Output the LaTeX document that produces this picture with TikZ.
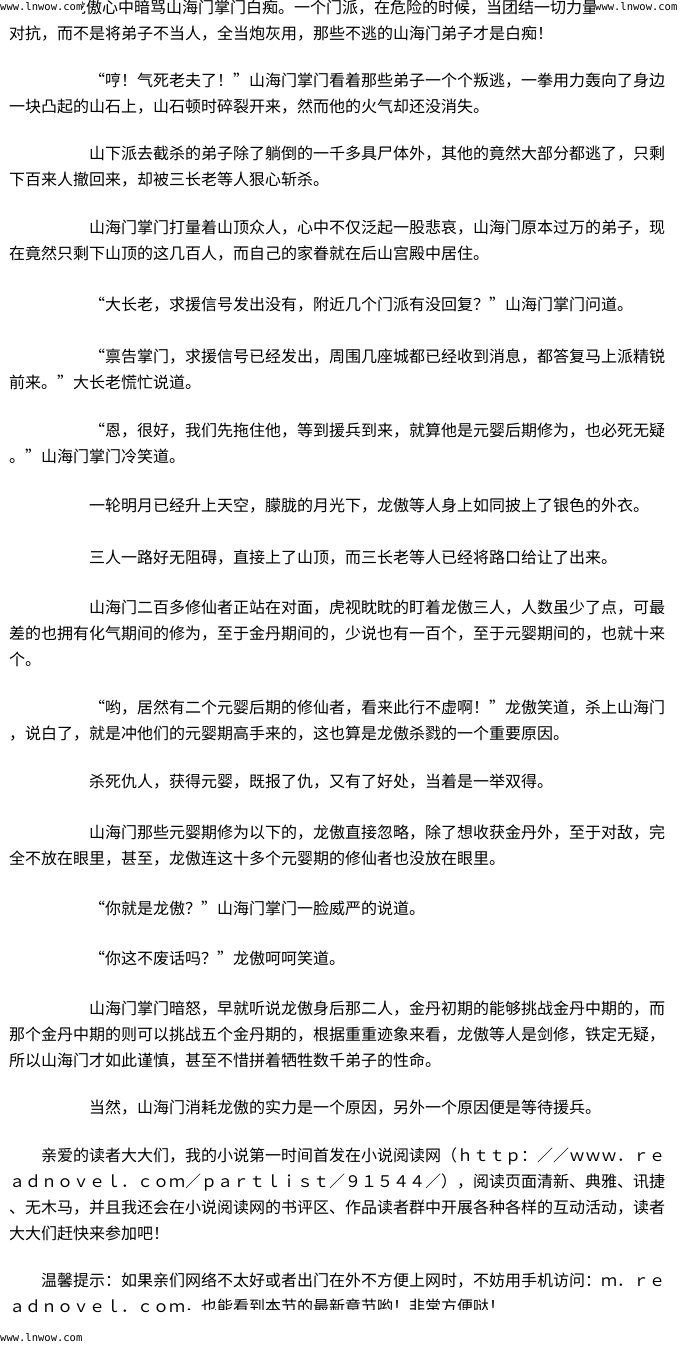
\documentclass[tikz,border=0pt]{standalone}
\usepackage{fontspec}
\newfontfamily\cjk{Noto Sans CJK SC}
\newfontfamily\wmfont{DejaVu Sans Mono}
\newlength\cw
\setlength\cw{16pt}
\def\cellbox#1{\ifx“#1\makebox[\cw][r]{#1}\else\ifx”#1\makebox[\cw][l]{#1}\else\makebox[\cw][c]{#1}\fi\fi}
\def\cellsi#1{\ifx\relax#1\else\cellbox{#1}\expandafter\cellsi\fi}
\newcommand\cells[1]{\cellsi#1\relax}
\tikzset{
  ln/.style={anchor=west, inner sep=0pt, text height=14.08pt, text depth=1.92pt,
    font=\cjk\fontsize{16}{16}\selectfont},
  wmark/.style={anchor=west, inner xsep=0pt, inner ysep=0pt, minimum height=16pt,
    fill=white, font=\wmfont\fontsize{10.5}{10.5}\selectfont}
}
\begin{document}
\begin{tikzpicture}[x=1pt,y=-1pt]
\useasboundingbox[fill=white] (0,0) rectangle (680,1355);
\node[ln] (l1) at (70,7) {\cells{龙傲心中暗骂山海门掌门白痴。一个门派，在危险的时候，当团结一切力量}};
\node[ln] (l2) at (9,33) {\cells{对抗，而不是将弟子不当人，全当炮灰用，那些不逃的山海门弟子才是白痴！}};
\node[ln] (l3) at (89,80) {\cells{“哼！气死老夫了！”山海门掌门看着那些弟子一个个叛逃，一拳用力轰向了身边}};
\node[ln] (l4) at (9,106) {\cells{一块凸起的山石上，山石顿时碎裂开来，然而他的火气却还没消失。}};
\node[ln] (l5) at (89,153) {\cells{山下派去截杀的弟子除了躺倒的一千多具尸体外，其他的竟然大部分都逃了，只剩}};
\node[ln] (l6) at (9,179) {\cells{下百来人撤回来，却被三长老等人狠心斩杀。}};
\node[ln] (l7) at (89,227) {\cells{山海门掌门打量着山顶众人，心中不仅泛起一股悲哀，山海门原本过万的弟子，现}};
\node[ln] (l8) at (9,253) {\cells{在竟然只剩下山顶的这几百人，而自己的家眷就在后山宫殿中居住。}};
\node[ln] (l9) at (89,304) {\cells{“大长老，求援信号发出没有，附近几个门派有没回复？”山海门掌门问道。}};
\node[ln] (l10) at (89,356) {\cells{“禀告掌门，求援信号已经发出，周围几座城都已经收到消息，都答复马上派精锐}};
\node[ln] (l11) at (9,382) {\cells{前来。”大长老慌忙说道。}};
\node[ln] (l12) at (89,430) {\cells{“恩，很好，我们先拖住他，等到援兵到来，就算他是元婴后期修为，也必死无疑}};
\node[ln] (l13) at (9,456) {\cells{。”山海门掌门冷笑道。}};
\node[ln] (l14) at (89,505) {\cells{一轮明月已经升上天空，朦胧的月光下，龙傲等人身上如同披上了银色的外衣。}};
\node[ln] (l15) at (89,557) {\cells{三人一路好无阻碍，直接上了山顶，而三长老等人已经将路口给让了出来。}};
\node[ln] (l16) at (89,607) {\cells{山海门二百多修仙者正站在对面，虎视眈眈的盯着龙傲三人，人数虽少了点，可最}};
\node[ln] (l17) at (9,633) {\cells{差的也拥有化气期间的修为，至于金丹期间的，少说也有一百个，至于元婴期间的，也就十来}};
\node[ln] (l18) at (9,659) {\cells{个。}};
\node[ln] (l19) at (89,707) {\cells{“哟，居然有二个元婴后期的修仙者，看来此行不虚啊！”龙傲笑道，杀上山海门}};
\node[ln] (l20) at (9,733) {\cells{，说白了，就是冲他们的元婴期高手来的，这也算是龙傲杀戮的一个重要原因。}};
\node[ln] (l21) at (89,781) {\cells{杀死仇人，获得元婴，既报了仇，又有了好处，当着是一举双得。}};
\node[ln] (l22) at (89,832) {\cells{山海门那些元婴期修为以下的，龙傲直接忽略，除了想收获金丹外，至于对敌，完}};
\node[ln] (l23) at (9,858) {\cells{全不放在眼里，甚至，龙傲连这十多个元婴期的修仙者也没放在眼里。}};
\node[ln] (l24) at (89,908) {\cells{“你就是龙傲？”山海门掌门一脸威严的说道。}};
\node[ln] (l25) at (89,958) {\cells{“你这不废话吗？”龙傲呵呵笑道。}};
\node[ln] (l26) at (89,1008) {\cells{山海门掌门暗怒，早就听说龙傲身后那二人，金丹初期的能够挑战金丹中期的，而}};
\node[ln] (l27) at (9,1034) {\cells{那个金丹中期的则可以挑战五个金丹期的，根据重重迹象来看，龙傲等人是剑修，铁定无疑，}};
\node[ln] (l28) at (9,1060) {\cells{所以山海门才如此谨慎，甚至不惜拼着牺牲数千弟子的性命。}};
\node[ln] (l29) at (89,1107) {\cells{当然，山海门消耗龙傲的实力是一个原因，另外一个原因便是等待援兵。}};
\node[ln] (l30) at (41,1155) {\cells{亲爱的读者大大们，我的小说第一时间首发在小说阅读网（ｈｔｔｐ：／／ｗｗｗ．ｒｅ}};
\node[ln] (l31) at (9,1181) {\cells{ａｄｎｏｖｅｌ．ｃｏｍ／ｐａｒｔｌｉｓｔ／９１５４４／），阅读页面清新、典雅、讯捷}};
\node[ln] (l32) at (9,1207) {\cells{、无木马，并且我还会在小说阅读网的书评区、作品读者群中开展各种各样的互动活动，读者}};
\node[ln] (l33) at (9,1233) {\cells{大大们赶快来参加吧！}};
\node[ln] (l34) at (41,1280) {\cells{温馨提示：如果亲们网络不太好或者出门在外不方便上网时，不妨用手机访问：ｍ．ｒｅ}};
\node[ln] (l35a) at (9,1306) {\cells{ａｄｎｏｖｅｌ．ｃｏｍ}};
\begin{scope}
\clip (185,1290) rectangle (680,1309);
\node[ln] (l35b) at (185,1306) {\cells{，也能看到本节的最新章节哟！非常方便哒！}};
\end{scope}
\node[wmark] (wm1) at (0,7) {\makebox[82pt][l]{www.lnwow.com}};
\node[wmark] (wm2) at (595,7) {\makebox[85pt][l]{www.lnwow.com}};
\node[wmark] (wm3) at (0,1338) {www.lnwow.com};
\end{tikzpicture}
\end{document}
